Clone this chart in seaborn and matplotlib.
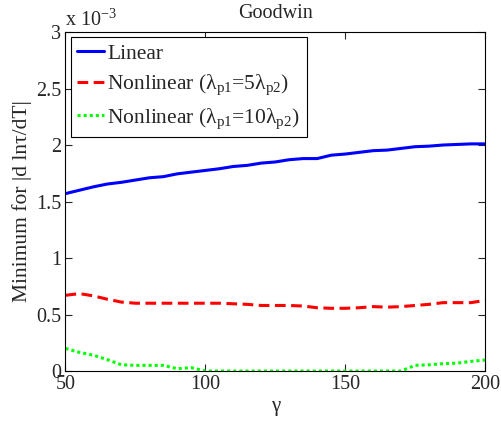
import numpy as np
import pandas as pd
import matplotlib
matplotlib.use("Agg")
import matplotlib.pyplot as plt
import seaborn as sns

# gamma values (x axis)
gamma = list(range(50, 205, 5))

# minimum of |d ln tau / dT|, in units of 1e-3
linear = [1.57, 1.60, 1.63, 1.655, 1.67, 1.69, 1.71, 1.72, 1.745, 1.76, 1.775,
          1.79, 1.81, 1.82, 1.84, 1.85, 1.87, 1.88, 1.88, 1.91, 1.92, 1.935,
          1.95, 1.955, 1.97, 1.985, 1.99, 2.0, 2.005, 2.01, 2.01]
nonlin_5 = [0.67, 0.685, 0.665, 0.635, 0.61, 0.60, 0.60, 0.60, 0.60, 0.60, 0.60,
            0.60, 0.595, 0.59, 0.58, 0.58, 0.58, 0.575, 0.56, 0.555, 0.555, 0.56,
            0.57, 0.565, 0.57, 0.58, 0.59, 0.605, 0.605, 0.605, 0.625]
nonlin_10 = [0.20, 0.165, 0.14, 0.10, 0.055, 0.05, 0.05, 0.05, 0.02, 0.03, 0.0,
             0.0, 0.0, 0.0, 0.0, 0.0, 0.0, 0.0, 0.0, 0.0, 0.0, 0.0,
             0.0, 0.0, 0.0, 0.05, 0.055, 0.065, 0.07, 0.085, 0.097]

labels = ["Linear",
          "Nonlinear (λ$_{\\rm p1}$=5λ$_{\\rm p2}$)",
          "Nonlinear (λ$_{\\rm p1}$=10λ$_{\\rm p2}$)"]

sns.set_style("ticks")
plt.rcParams['font.family'] = ['Liberation Serif', 'DejaVu Serif']
plt.rcParams['mathtext.fontset'] = 'custom'
plt.rcParams['mathtext.rm'] = 'Liberation Serif'
plt.rcParams['mathtext.it'] = 'Liberation Serif:italic'

fig = plt.figure(figsize=(5.01, 4.23), dpi=100, facecolor='white')
ax = fig.add_axes([0.1307, 0.1229, 0.968 - 0.1307, 0.9243 - 0.1229])

sns.lineplot(x=gamma, y=linear, ax=ax, color=(0, 0, 1), lw=2.2, label=labels[0])
sns.lineplot(x=gamma, y=nonlin_5, ax=ax, color=(1, 0, 0), lw=2.2,
             label=labels[1], dashes=False)
sns.lineplot(x=gamma, y=nonlin_10, ax=ax, color=(0, 1, 0), lw=2.2,
             label=labels[2], dashes=False)
ax.lines[1].set_dashes([3.5, 1.8])
ax.lines[2].set_dashes([1, 1])

ax.set_xlim(50, 200)
ax.set_ylim(0, 3)
ax.set_xticks([50, 100, 150, 200])
ax.set_yticks([0, 0.5, 1, 1.5, 2, 2.5, 3])
ax.set_yticklabels(["0", "0.5", "1", "1.5", "2", "2.5", "3"])
ax.tick_params(direction='in', top=True, right=True, labelsize=14.5, length=5,
               width=0.8, pad=3)
for s in ax.spines.values():
    s.set_linewidth(0.8)
    s.set_color('black')

ax.set_xlabel("γ", fontsize=15, labelpad=2)
ax.set_ylabel("Minimum for |d lnτ/dT|", fontsize=15.5, labelpad=3)
ax.set_title("Goodwin", fontsize=14.5, pad=10)
ax.text(0.0, 1.005, "x 10$^{-3}$", transform=ax.transAxes, fontsize=14.5,
        ha='left', va='bottom')

leg = ax.legend(loc='upper left', fontsize=15.5, frameon=True, fancybox=False,
                edgecolor='black', framealpha=1, handlelength=1.25,
                handletextpad=0.15, borderpad=0.3, labelspacing=0.42,
                borderaxespad=0.25)
leg.get_frame().set_linewidth(0.8)

fig.savefig("out.png", dpi=100)
plt.close(fig)
